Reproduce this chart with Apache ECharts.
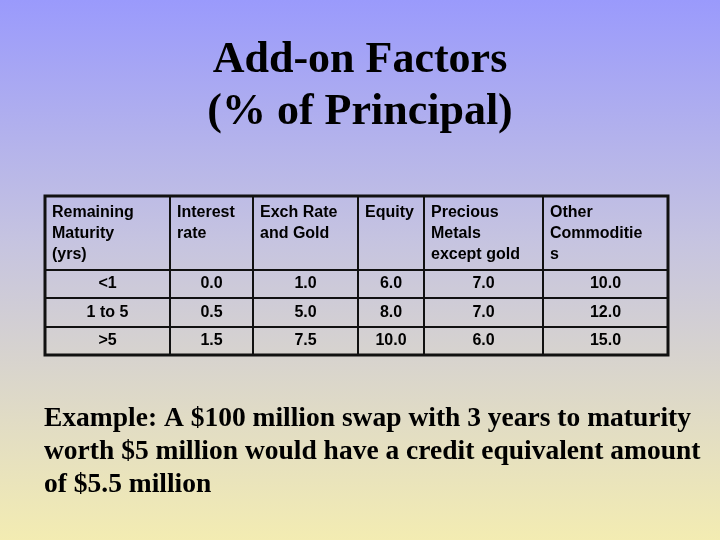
<!DOCTYPE html>
<html>
<head>
<meta charset="utf-8">
<script src="https://cdn.jsdelivr.net/npm/echarts@6/dist/echarts.min.js"></script>
<style>
  html, body { margin: 0; padding: 0; }
  #chart { width: 720px; height: 540px; background: linear-gradient(#9a9afc, #c6c4e0 45%, #f3ecb2); }
</style>
</head>
<body>
<div id="chart"></div>
<script>
// table content
const headers = ['Remaining\nMaturity\n(yrs)', 'Interest\nrate', 'Exch Rate\nand Gold', 'Equity', 'Precious\nMetals\nexcept gold', 'Other\nCommoditie\ns'];
const maturities = ['<1', '1 to 5', '>5'];
const interestRate = ['0.0', '0.5', '1.5'];
const exchGold = ['1.0', '5.0', '7.5'];
const equity = ['6.0', '8.0', '10.0'];
const metals = ['7.0', '7.0', '6.0'];
const otherComm = ['10.0', '12.0', '15.0'];

// layout of the table (column and row edges, in table units)
const colEdges = [0, 125, 208, 313, 379, 498, 623];
const rowEdges = [0, 74, 102, 131, 159];

const columns = [maturities, interestRate, exchGold, equity, metals, otherComm];
const cells = [];
headers.forEach((h, c) => cells.push([c, 0, h]));
for (let r = 0; r < maturities.length; r++) {
  columns.forEach((col, c) => cells.push([c, r + 1, col[r]]));
}

const chart = echarts.init(document.getElementById('chart'));
chart.setOption({
  backgroundColor: 'transparent',
  title: {
    text: 'Add-on Factors\n(% of Principal)',
    left: 'center',
    top: 30,
    textStyle: { fontFamily: 'Liberation Serif', fontWeight: 'bold', fontSize: 44, lineHeight: 52, color: '#000' }
  },
  grid: { left: 45, right: 52, top: 196, bottom: 185 },
  xAxis: { type: 'value', min: 0, max: 623, show: false },
  yAxis: { type: 'value', min: 0, max: 159, inverse: true, show: false },
  series: [{
    type: 'custom',
    data: cells,
    renderItem: function (params, api) {
      const c = api.value(0), r = api.value(1);
      const p0 = api.coord([colEdges[c], rowEdges[r]]);
      const p1 = api.coord([colEdges[c + 1], rowEdges[r + 1]]);
      const text = cells[params.dataIndex][2];
      const header = r === 0;
      return {
        type: 'group',
        children: [{
          type: 'rect',
          shape: { x: p0[0], y: p0[1], width: p1[0] - p0[0], height: p1[1] - p0[1] },
          style: { fill: 'none', stroke: '#111', lineWidth: 2 }
        }, {
          type: 'text',
          x: header ? p0[0] + 7 : (p0[0] + p1[0]) / 2,
          y: header ? p0[1] + 6 : (p0[1] + p1[1]) / 2,
          style: {
            text: text,
            fill: '#000',
            font: 'bold 16px "Liberation Sans", Arial',
            lineHeight: 21,
            align: header ? 'left' : 'center',
            verticalAlign: header ? 'top' : 'middle'
          }
        }]
      };
    }
  }],
  graphic: [{
    type: 'rect',
    shape: { x: 45, y: 196, width: 623, height: 159 },
    style: { fill: 'none', stroke: '#111', lineWidth: 3 },
    z: 10
  }, {
    type: 'text',
    left: 44,
    top: 402,
    style: {
      text: 'Example: A $100 million swap with 3 years to maturity\nworth $5 million would have a credit equivalent amount\nof $5.5 million',
      font: 'bold 27.5px "Liberation Serif"',
      lineHeight: 33,
      fill: '#000'
    }
  }]
});
</script>
</body>
</html>
